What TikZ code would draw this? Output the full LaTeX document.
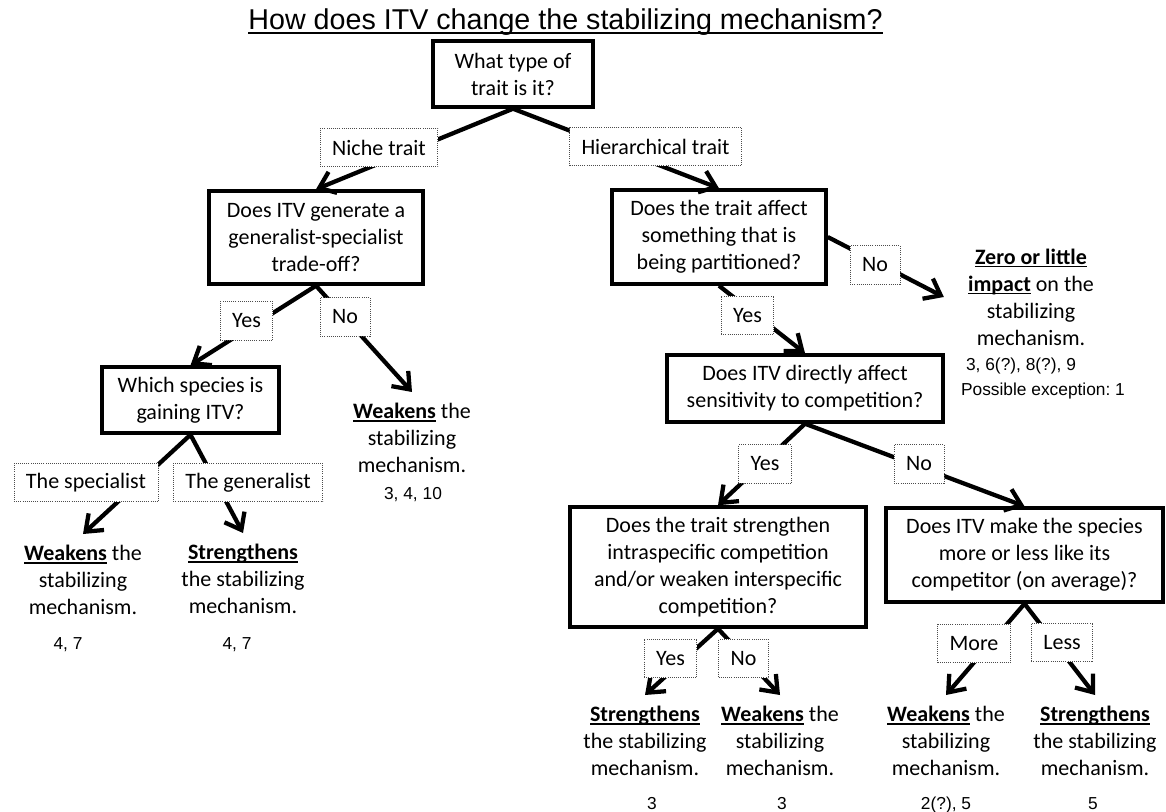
\documentclass[tikz,border=0pt]{standalone}
\usepackage{fontspec}
\setmainfont{Carlito}
\newfontfamily\arialfont{Liberation Sans}
\usetikzlibrary{arrows.meta}
\frenchspacing
\newcommand{\ulbf}[1]{\vtop{\hbox{\raisebox{0pt}[\height][0pt]{\textbf{#1}}}\kern1.2pt\hrule height 1.3pt}}
\begin{document}
\begin{tikzpicture}[x=0.75pt, y=-0.75pt, font=\fontsize{16.5}{20.25}\selectfont,
  >={Straight Barb[length=11pt,width=17pt]},
  qbox/.style={draw, line width=2.6pt, align=center, inner sep=0pt},
  lbl/.style={draw=black!70, densely dotted, line width=0.6pt, fill=white, minimum height=29pt, inner xsep=9pt},
  outcome/.style={align=center, inner xsep=0pt, inner ysep=8pt},
  refs/.style={font=\arialfont\fontsize{13}{18.75}\selectfont, inner sep=0pt, anchor=base},
  link/.style={->, line width=3.2pt}]
\useasboundingbox (0,0) rectangle (1166,812);
% title
\node[font=\arialfont\fontsize{21.5}{25}\selectfont, inner sep=0pt, anchor=base] (title) at (565.5,30) {How does ITV change the stabilizing mechanism?};
\draw[line width=1.3pt] ([yshift=-2.5pt]title.base west) -- ([yshift=-2.5pt]title.base east);
% questions
\node[qbox, minimum width=120pt, minimum height=49.5pt] (q1) at (513,74) {What type of\\trait is it?};
\node[qbox, minimum width=160.5pt, minimum height=69.75pt] (q2) at (316,237.5) {Does ITV generate a\\generalist-specialist\\trade-off?};
\node[qbox, minimum width=160.5pt, minimum height=70.5pt] (q3) at (719,237) {Does the trait affect\\something that is\\being partitioned?};
\node[qbox, minimum width=132.75pt, minimum height=49.5pt] (q4) at (190.5,400) {Which species is\\gaining ITV?};
\node[qbox, minimum width=207pt, minimum height=50.25pt] (q5) at (805,388.5) {Does ITV directly affect\\sensitivity to competition?};
\node[qbox, minimum width=222pt, minimum height=90pt] (q6) at (718,567) {Does the trait strengthen\\intraspecific competition\\and/or weaken interspecific\\competition?};
\node[qbox, minimum width=207.75pt, minimum height=70.5pt] (q7) at (1024.5,555) {Does ITV make the species\\more or less like its\\competitor (on average)?};
% outcomes
\node[outcome, anchor=north] (w1) at (412,392) {\ulbf{Weakens} the\\stabilizing\\mechanism.};
\node[outcome, anchor=north] (s1) at (83,534) {\ulbf{Weakens} the\\stabilizing\\mechanism.};
\node[outcome, anchor=north] (s2) at (243,533) {\ulbf{Strengthens}\\the stabilizing\\mechanism.};
\node[outcome, inner xsep=18pt] (zero) at (1031,297) {\ulbf{Zero or little}\\\ulbf{impact} on the\\stabilizing\\mechanism.};
\node[outcome, anchor=north] (r1) at (645,695) {\ulbf{Strengthens}\\the stabilizing\\mechanism.};
\node[outcome, anchor=north] (r2) at (780,695) {\ulbf{Weakens} the\\stabilizing\\mechanism.};
\node[outcome, anchor=north] (r3) at (946,695) {\ulbf{Weakens} the\\stabilizing\\mechanism.};
\node[outcome, anchor=north] (r4) at (1095,695) {\ulbf{Strengthens}\\the stabilizing\\mechanism.};
% references
\node[refs] (n1) at (413,499) {3, 4, 10};
\node[refs] (n2) at (68,649) {4, 7};
\node[refs] (n3) at (237,649) {4, 7};
\node[refs] (n4) at (1021,371) {3, 6(?), 8(?), 9};
\node[refs] (n5) at (1043,396) {Possible exception: 1};
\node[refs] (n6) at (652,809) {3};
\node[refs] (n7) at (782,809) {3};
\node[refs] (n8) at (946,809) {2(?), 5};
\node[refs] (n9) at (1093,809) {5};
% connectors
\foreach \a/\b in {q1.south/q2.north, q1.south/q3.north, q2.south/q4.north, q2.south/w1.north,
  q4.south/s1.north, q4.south/s2.north, q3.east/zero.west, q3.south/q5.north,
  q5.south/q6.north, q5.south/q7.north, q6.south/r1.north, q6.south/r2.north,
  q7.south/r3.north, q7.south/r4.north}
  \draw[link] (\a) -- (\b);
% answers on the connectors
\node[lbl] (niche) at (379,147.5) {Niche trait};
\node[lbl] (hier) at (655.5,146.5) {Hierarchical trait};
\node[lbl] (yes1) at (246.5,321) {Yes};
\node[lbl] (no1) at (345,317) {No};
\node[lbl] (spec) at (86,482.5) {The specialist};
\node[lbl] (gen) at (248,482.5) {The generalist};
\node[lbl] (no2) at (875,265) {No};
\node[lbl] (yes2) at (747.5,315.5) {Yes};
\node[lbl] (yes3) at (765,464) {Yes};
\node[lbl] (no3) at (919,464) {No};
\node[lbl] (yes4) at (670.5,658.5) {Yes};
\node[lbl] (no4) at (743.5,658.5) {No};
\node[lbl] (more) at (974,643.5) {More};
\node[lbl] (less) at (1062,642.5) {Less};
\end{tikzpicture}
\end{document}
